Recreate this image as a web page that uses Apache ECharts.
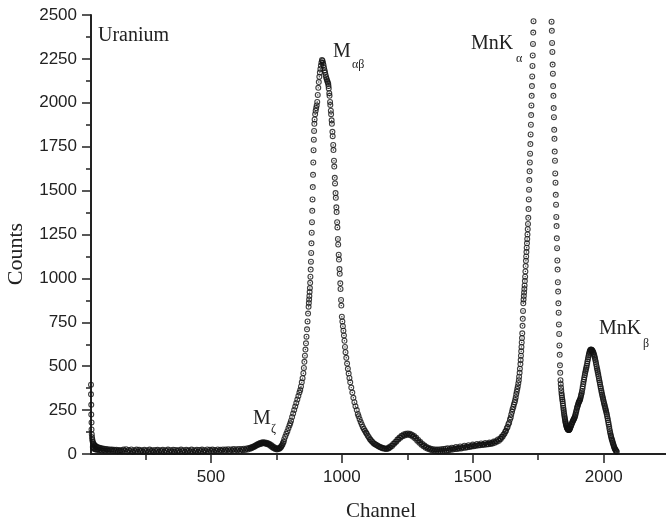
<!DOCTYPE html>
<html>
<head>
<meta charset="utf-8">
<script src="https://cdn.jsdelivr.net/npm/echarts@6/dist/echarts.min.js"></script>
<style>
  html, body { margin: 0; padding: 0; background: #fff; }
  #chart { width: 666px; height: 525px; }
</style>
</head>
<body>
<div id="chart"></div>
<script>
// uranium spectrum, [channel, counts]
const edgeTail = [[42,395],[42,340],[43,280],[43,225],[44,180],[44,140],[45,112],[46,95],[47,82],[48,72],[49,40],[50,64],[51,35],[52,57],[53,30],[54,52],[56,48],[57,28],[59,45],[60,26],[62,42],[64,24],[66,39],[68,26],[70,37],[73,22],[75,35],[78,24],[80,33],[83,20],[86,31],[89,22],[92,30],[96,19],[99,28],[103,21],[106,27],[110,18],[114,26],[118,20],[122,25],[126,17],[130,24],[135,19],[139,24],[144,16],[148,23],[152,18],[157,22]];
const baseline = [[161,15],[166,25],[171,18],[176,27],[181,14],[186,23],[191,17],[196,26],[201,13],[206,22],[211,16],[216,25],[221,14],[226,24],[231,15],[236,21],[241,12],[246,24],[251,16],[256,22],[261,13],[266,25],[271,15],[276,21],[281,12],[286,23],[291,16],[296,24],[301,13],[306,22],[311,15],[316,24],[321,12],[326,21],[331,16],[336,25],[341,13],[346,22],[351,14],[356,24],[361,12],[366,23],[371,16],[376,21],[381,13],[386,25],[391,15],[396,22],[401,12],[406,24],[411,16],[416,21],[421,14],[426,25],[431,13],[436,22],[441,16],[446,24],[451,12],[456,23],[461,15],[466,25],[471,14],[476,22],[481,16],[486,26],[491,13],[496,24],[501,17],[506,25],[511,14],[516,23],[521,17],[526,26],[531,15],[536,24],[541,18],[546,26],[551,15],[556,25],[561,18],[566,27],[571,16],[576,26],[581,19],[586,28],[591,17],[596,27],[601,20],[606,29],[611,18],[616,28],[621,22],[626,30],[631,23],[636,32],[641,26],[645,34]];
const zetaPeak = [[650,30],[652,37],[656,34],[658,40],[662,38],[664,44],[668,43],[670,49],[674,48],[676,54],[680,52],[682,58],[686,56],[688,62],[692,59],[694,65],[698,61],[700,67],[704,61],[706,66],[710,59],[712,64],[716,56],[718,61],[722,52],[724,57],[728,46],[730,51],[734,39],[736,44],[740,33],[742,38],[746,28],[748,33],[752,26],[754,31],[758,28],[760,33],[763,32],[765,38],[768,40],[770,47],[773,52],[775,62],[778,70],[780,84]];
const mabPeak = [[784,99],[788,115],[792,130],[796,147],[800,163],[803,175],[806,190],[810,210],[814,230],[818,250],[822,270],[826,290],[830,310],[834,330],[838,350],[841,364],[844,385],[847,408],[850,432],[853,460],[855,490],[857,525],[859,560],[861,595],[863,630],[865,668],[867,710],[869,755],[871,800],[873,839],[874,860],[875,880],[876,900],[877,922],[878,945],[879,975],[880,1010],[881,1050],[882,1095],[883,1145],[884,1200],[885,1260],[886,1320],[887,1385],[888,1450],[889,1520],[890,1590],[891,1660],[892,1730],[893,1790],[894,1840],[895,1880],[896,1905],[898,1935],[900,1955],[902,1970],[904,1985],[906,2005],[908,2045],[910,2085],[912,2118],[914,2148],[916,2172],[918,2192],[920,2212],[922,2230],[924,2244],[926,2240],[928,2228],[930,2215],[932,2200],[934,2185],[936,2172],[938,2158],[940,2146],[942,2136],[944,2126],[946,2117],[948,2108],[949,2095],[950,2082],[952,2055],[953,2040],[955,2005],[956,1988],[958,1955],[959,1935],[961,1900],[962,1880],[964,1835],[965,1810],[967,1760],[968,1731],[970,1670],[971,1637],[973,1573],[974,1541],[976,1486],[977,1459],[979,1405],[980,1378],[982,1320],[983,1290],[985,1225],[986,1193],[988,1135],[989,1107],[991,1053],[992,1026],[994,972],[995,940],[997,877],[998,845],[1000,782],[1002,755],[1004,728],[1006,702],[1008,675],[1010,645],[1012,610],[1014,580],[1017,548],[1020,515],[1023,485],[1026,458],[1029,433],[1032,408],[1036,378],[1040,350],[1044,320],[1048,295],[1052,272],[1057,250],[1061,228],[1064,215],[1068,198],[1072,182],[1076,168],[1080,154],[1084,143],[1088,132],[1092,122],[1095,115],[1099,104],[1103,96],[1107,86],[1110,80],[1114,72],[1118,67],[1122,60],[1126,57],[1130,52],[1134,50],[1138,45],[1142,43],[1146,38],[1150,38],[1154,33],[1158,34],[1162,30],[1166,32],[1170,29],[1174,32]];
const midBump = [[1178,31],[1180,38],[1184,37],[1188,46],[1192,46],[1196,57],[1200,58],[1204,69],[1208,70],[1212,82],[1216,82],[1220,94],[1224,93],[1228,104],[1232,101],[1236,111],[1240,106],[1244,115],[1248,110],[1252,117],[1256,109],[1260,115],[1264,106],[1268,110],[1272,98],[1276,102],[1280,88],[1284,92],[1288,76],[1292,80],[1296,64],[1300,68],[1304,53],[1308,57],[1312,44],[1316,48],[1320,36],[1324,40],[1328,30],[1332,34],[1336,25],[1340,30],[1344,21],[1348,27],[1352,18],[1356,26],[1360,17],[1364,25],[1368,16],[1372,26],[1376,17],[1380,27],[1384,18],[1388,28],[1392,19],[1396,30],[1400,20],[1404,33],[1408,22],[1412,30],[1416,24],[1420,36],[1424,25],[1428,33],[1432,28],[1436,40],[1440,29],[1444,36],[1448,31],[1452,43],[1456,32],[1460,39],[1464,35],[1468,47],[1472,36],[1476,42],[1480,39],[1484,50],[1488,40],[1492,46],[1496,43],[1500,54],[1504,44],[1508,49],[1512,47],[1516,57],[1520,48],[1524,52],[1528,50],[1532,60],[1536,51],[1540,55],[1544,53],[1548,63],[1552,54],[1556,58]];
const mnKaPeak = [[1560,55],[1564,65],[1568,57],[1572,63],[1576,60],[1580,71],[1584,64],[1588,73],[1592,70],[1596,83],[1600,76],[1604,87],[1607,86],[1610,98],[1614,98],[1617,110],[1621,115],[1624,127],[1627,132],[1630,147],[1633,154],[1636,170],[1639,178],[1642,196],[1645,208],[1647,225],[1650,240],[1652,255],[1655,268],[1657,282],[1660,295],[1662,307],[1664,322],[1666,340],[1668,355],[1670,370],[1672,385],[1674,403],[1676,420],[1677,440],[1679,462],[1680,485],[1682,512],[1683,535],[1684,560],[1685,585],[1686,610],[1687,635],[1688,660],[1689,687],[1690,730],[1691,770],[1692,815],[1693,858],[1694,880],[1695,900],[1696,920],[1697,940],[1698,960],[1699,985],[1700,1010],[1701,1040],[1702,1070],[1703,1100],[1704,1125],[1705,1150],[1706,1175],[1707,1200],[1708,1225],[1709,1250],[1710,1280],[1711,1310],[1712,1345],[1713,1395],[1714,1450],[1715,1505],[1716,1560],[1717,1610],[1718,1660],[1719,1710],[1720,1765],[1721,1820],[1722,1875],[1723,1930],[1724,1985],[1725,2040],[1726,2095],[1727,2150],[1728,2210],[1729,2270],[1730,2335],[1731,2400],[1732,2465],[1733,2530],[1735,2660],[1740,2950],[1745,3200],[1750,3400],[1755,3550],[1760,3650],[1765,3700],[1770,3680],[1775,3600],[1780,3450],[1785,3250],[1790,3000],[1795,2780],[1800,2530],[1801,2462],[1802,2410],[1803,2341],[1804,2290],[1805,2218],[1806,2166],[1807,2095],[1808,2040],[1809,1970],[1810,1918],[1811,1846],[1812,1795],[1813,1722],[1814,1670],[1815,1598],[1816,1545],[1817,1476],[1818,1420],[1819,1350],[1820,1298],[1821,1228],[1822,1172],[1823,1102],[1824,1050],[1825,978],[1826,925],[1827,858],[1828,805],[1829,738],[1830,684],[1831,618],[1832,565],[1833,505],[1834,462],[1835,420],[1836,398],[1837,378],[1838,362],[1839,346],[1840,334],[1841,322],[1842,311],[1843,300],[1844,288],[1845,275],[1846,262],[1847,250],[1848,239],[1849,228],[1850,218],[1851,208],[1852,199],[1853,190],[1854,182],[1855,175],[1856,169],[1857,163],[1858,158],[1859,153],[1860,150],[1861,146],[1862,143],[1863,141],[1864,139],[1865,138],[1866,136],[1867,137],[1868,138],[1869,140],[1870,143],[1871,146]];
const mnKbPeak = [[1872,150],[1874,156],[1875,160],[1877,168],[1878,172],[1880,180],[1881,184],[1883,190],[1884,193],[1886,198],[1887,202],[1889,208],[1890,213],[1892,222],[1893,230],[1895,240],[1896,249],[1898,260],[1899,267],[1901,275],[1902,282],[1904,290],[1905,295],[1907,300],[1908,305],[1910,310],[1911,318],[1913,328],[1914,337],[1916,346],[1917,358],[1919,372],[1920,385],[1922,398],[1923,411],[1925,424],[1926,437],[1928,450],[1929,461],[1931,472],[1932,482],[1934,492],[1935,503],[1937,515],[1938,528],[1940,540],[1941,551],[1943,562],[1944,571],[1946,580],[1947,586],[1949,591],[1950,593],[1952,595],[1953,594],[1955,592],[1956,590],[1958,586],[1959,581],[1961,576],[1962,569],[1964,562],[1965,554],[1967,545],[1968,535],[1970,524],[1971,512],[1973,500],[1974,489],[1976,478],[1977,467],[1979,455],[1980,444],[1982,432],[1983,420],[1985,408],[1986,397],[1988,385],[1989,374],[1991,362],[1992,351],[1994,340],[1995,330],[1997,320],[1998,310],[2000,300],[2001,291],[2003,282],[2004,273],[2006,264],[2007,255],[2009,246],[2010,236],[2012,226],[2013,215],[2015,204],[2016,192],[2018,180],[2019,168],[2021,155],[2022,142],[2024,130],[2025,119],[2027,108],[2028,99],[2030,90],[2031,82],[2033,75],[2034,67],[2036,60],[2037,52],[2039,45],[2040,39],[2042,33],[2043,28],[2045,24],[2046,20],[2048,17],[2050,13]];

const xMajorTicks = [500, 1000, 1500, 2000];
const xMinorTicks = [250, 750, 1250, 1750];

const spectrum = [].concat(edgeTail, baseline, zetaPeak, mabPeak, midBump, mnKaPeak, mnKbPeak);

const ink = '#222';
const serif = '"Liberation Serif", "Times New Roman", serif';
const sans = '"Liberation Sans", Arial, sans-serif';
// ring with a dot in the middle, like the markers of the original plot
const ringDot = 'path://M10,0A10,10,0,1,1,-10,0A10,10,0,1,1,10,0ZM6.3,0A6.3,6.3,0,1,0,-6.3,0A6.3,6.3,0,1,0,6.3,0ZM2.4,0A2.4,2.4,0,1,1,-2.4,0A2.4,2.4,0,1,1,2.4,0Z';

const chart = echarts.init(document.getElementById('chart'), null, { renderer: 'canvas' });

function label(text, x, y, size) {
  return {
    type: 'text', x: x, y: y, z: 10,
    style: { text: text, fill: ink, font: size + 'px ' + serif, align: 'left', verticalAlign: 'middle' }
  };
}

const plain = (v) => String(v);

const option = {
  animation: false,
  backgroundColor: '#fff',
  grid: { left: 91, right: 0, top: 15, bottom: 71, containLabel: false },
  xAxis: [
    {
      type: 'value', min: 42, max: 2238, position: 'bottom',
      axisLine: { show: true, onZero: false, lineStyle: { color: ink, width: 2 } },
      axisTick: { show: true, customValues: xMajorTicks, length: 9, lineStyle: { color: ink, width: 1.5 } },
      axisLabel: { customValues: xMajorTicks, formatter: plain, margin: 15, fontSize: 17, color: ink, fontFamily: sans },
      splitLine: { show: false }
    },
    {
      type: 'value', min: 42, max: 2238, position: 'bottom', offset: 0,
      axisLine: { show: false, onZero: false },
      axisTick: { show: true, customValues: xMinorTicks, length: 6, lineStyle: { color: ink, width: 1.5 } },
      axisLabel: { show: false },
      splitLine: { show: false }
    }
  ],
  yAxis: {
    type: 'value', min: 0, max: 2500, interval: 250,
    axisLine: { show: true, onZero: false, lineStyle: { color: ink, width: 2 } },
    axisTick: { show: true, length: 9, lineStyle: { color: ink, width: 1.5 } },
    minorTick: { show: true, splitNumber: 2, length: 5, lineStyle: { color: ink, width: 1.5 } },
    axisLabel: { formatter: plain, margin: 14, fontSize: 17, color: ink, fontFamily: sans },
    splitLine: { show: false }
  },
  series: [
    {
      type: 'scatter',
      xAxisIndex: 0,
      data: spectrum,
      symbol: ringDot,
      symbolSize: 6,
      clip: true,
      itemStyle: { color: '#111' },
      emphasis: { disabled: true }
    }
  ],
  graphic: [
    label('Uranium', 98, 36, 20),
    label('M', 333, 52, 20),
    label('αβ', 352, 65, 12),
    label('MnK', 471, 44, 20),
    label('α', 516, 58.5, 12),
    label('MnK', 599, 329, 20),
    label('β', 643, 344, 12),
    label('M', 253, 418.5, 20),
    label('ζ', 271, 429, 12),
    {
      type: 'text', x: 16, y: 254, rotation: Math.PI / 2,
      style: { text: 'Counts', fill: ink, font: '22px ' + serif, align: 'center', verticalAlign: 'middle' }
    },
    {
      type: 'text', x: 381, y: 511,
      style: { text: 'Channel', fill: ink, font: '21px ' + serif, align: 'center', verticalAlign: 'middle' }
    }
  ]
};

chart.setOption(option);
</script>
</body>
</html>
